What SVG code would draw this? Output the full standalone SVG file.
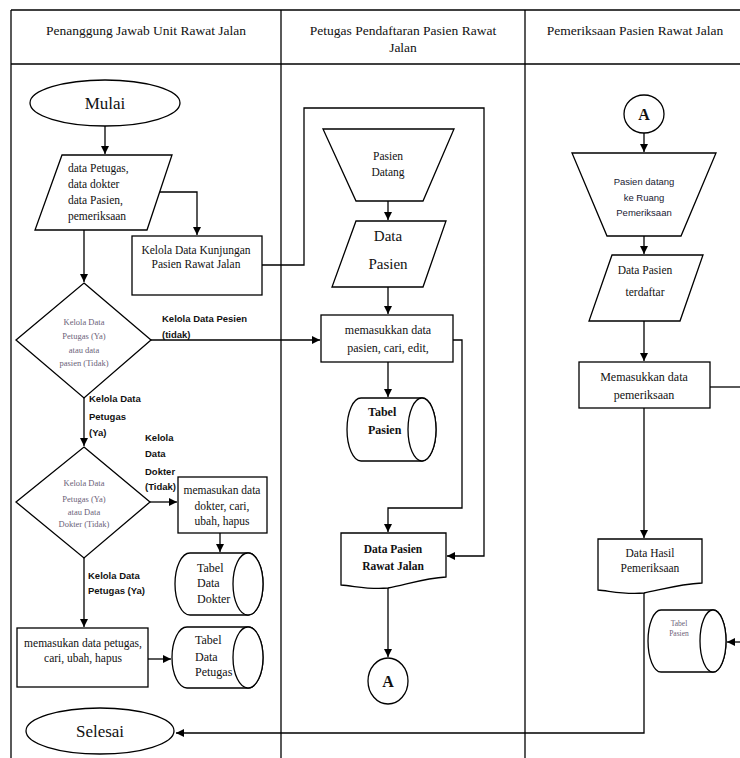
<svg xmlns="http://www.w3.org/2000/svg" width="740" height="758" viewBox="0 0 740 758">
<style>
.frame{fill:none;stroke:#000;stroke-width:1.3}
.shape{fill:#fff;stroke:#000;stroke-width:1.3}
.line{fill:none;stroke:#000;stroke-width:1.3}
.arr{marker-end:url(#ah)}
.t{font-family:"Liberation Serif","Times New Roman",serif;fill:#111;text-anchor:middle}
.tl{font-family:"Liberation Serif","Times New Roman",serif;fill:#111}
.s{font-family:"Liberation Sans",Arial,sans-serif;font-weight:bold;fill:#111}
.c{font-family:"Liberation Sans",Arial,sans-serif;fill:#1a1a33;text-anchor:middle}
.d{font-family:"Liberation Serif","Times New Roman",serif;fill:#6b6278;text-anchor:middle;font-size:8.5px}
</style>
<defs>
<marker id="ah" markerWidth="10" markerHeight="10" refX="8" refY="4" orient="auto" markerUnits="userSpaceOnUse">
<path d="M0,0 L8,4 L0,8 Z" fill="#000"/>
</marker>
</defs>
<rect width="740" height="758" fill="#fff"/>
<g id="frame">
<line class="frame" x1="11" y1="10" x2="740" y2="10"/>
<line class="frame" x1="11" y1="64" x2="740" y2="64"/>
<line class="frame" x1="11" y1="10" x2="11" y2="758"/>
<line class="frame" x1="281" y1="10" x2="281" y2="758"/>
<line class="frame" x1="525" y1="10" x2="525" y2="758"/>
<text class="t" x="146" y="35" font-size="13.5">Penanggung Jawab Unit Rawat Jalan</text>
<text class="t" x="403" y="35" font-size="13.5">Petugas Pendaftaran Pasien Rawat</text>
<text class="t" x="403" y="52" font-size="13.5">Jalan</text>
<text class="t" x="635" y="35" font-size="13.5">Pemeriksaan Pasien Rawat Jalan</text>
</g>
<g id="connectors">
<polyline class="line arr" points="105,126 105,154"/>
<polyline class="line arr" points="158,192 197,192 197,235"/>
<polyline class="line arr" points="84,230 84,282"/>
<polyline class="line arr" points="262,265 304,265 304,108 484,108 484,556 447,556"/>
<polyline class="line arr" points="151,340 320,340"/>
<polyline class="line arr" points="84,398 84,446"/>
<polyline class="line arr" points="150,502 177,502"/>
<polyline class="line arr" points="220,533 220,552"/>
<polyline class="line arr" points="84,558 84,627"/>
<polyline class="line arr" points="148,659 171,659"/>
<polyline class="line arr" points="388,201 388,220"/>
<polyline class="line arr" points="388,287 388,314"/>
<polyline class="line arr" points="388,362 388,397"/>
<polyline class="line arr" points="453,340 462,340 462,508 388,508 388,532"/>
<polyline class="line arr" points="388,588 388,657"/>
<polyline class="line arr" points="644,133 644,152"/>
<polyline class="line arr" points="644,236 644,254"/>
<polyline class="line arr" points="644,321 644,361"/>
<polyline class="line" points="710,387 740,387"/>
<polyline class="line arr" points="644,408 644,538"/>
<polyline class="line arr" points="644,593 644,733 176,733"/>
<polyline class="line arr" points="740,642 727,642"/>
<text class="s" x="162" y="322" font-size="9.5">Kelola Data Pesien</text>
<text class="s" x="162" y="338" font-size="9.5">(tidak)</text>
<text class="s" x="89" y="402" font-size="9.5">Kelola Data</text>
<text class="s" x="89" y="420" font-size="9.5">Petugas</text>
<text class="s" x="89" y="436" font-size="9.5">(Ya)</text>
<text class="s" x="145" y="441" font-size="9.5">Kelola</text>
<text class="s" x="145" y="457" font-size="9.5">Data</text>
<text class="s" x="145" y="475" font-size="9.5">Dokter</text>
<text class="s" x="145" y="490" font-size="9.5">(Tidak)</text>
<text class="s" x="88" y="579" font-size="9.5">Kelola Data</text>
<text class="s" x="88" y="594" font-size="9.5">Petugas (Ya)</text>
</g>
<g id="mulai">
<ellipse class="shape" cx="105" cy="103" rx="75" ry="23"/>
<text class="t" x="105" y="109" font-size="17">Mulai</text>
</g>
<g id="input-data">
<polygon class="shape" points="62,155 172,155 147,230 35,230"/>
<text class="tl" x="68" y="172" font-size="11.5">data Petugas,</text>
<text class="tl" x="68" y="188" font-size="11.5">data dokter</text>
<text class="tl" x="68" y="204" font-size="11.5">data Pasien,</text>
<text class="tl" x="68" y="220" font-size="11.5">pemeriksaan</text>
</g>
<g id="kelola-kunjungan">
<rect class="shape" x="132" y="236" width="130" height="59"/>
<text class="t" x="196" y="254" font-size="11.5">Kelola Data Kunjungan</text>
<text class="t" x="196" y="268" font-size="11.5">Pasien Rawat Jalan</text>
</g>
<g id="decision1">
<polygon class="shape" points="84,283 151,340 84,398 16,340"/>
<text class="d" x="84" y="325">Kelola Data</text>
<text class="d" x="84" y="339">Petugas  (Ya)</text>
<text class="d" x="84" y="353">atau data</text>
<text class="d" x="84" y="366">pasien (Tidak)</text>
</g>
<g id="decision2">
<polygon class="shape" points="84,447 150,502 84,558 16,502"/>
<text class="d" x="84" y="486">Kelola Data</text>
<text class="d" x="84" y="502">Petugas (Ya)</text>
<text class="d" x="84" y="515">atau Data</text>
<text class="d" x="84" y="527">Dokter (Tidak)</text>
</g>
<g id="input-dokter">
<rect class="shape" x="178" y="477" width="89" height="56"/>
<text class="t" x="222" y="494" font-size="11.5">memasukan data</text>
<text class="t" x="222" y="510" font-size="11.5">dokter, cari,</text>
<text class="t" x="222" y="525" font-size="11.5">ubah, hapus</text>
</g>
<g id="tabel-dokter">
<path class="shape" d="M190,553 H248 A15,31 0 0 1 248,615 H190 A15,31 0 0 1 190,553 Z"/>
<ellipse class="shape" cx="248" cy="584" rx="15" ry="31"/>
<text class="tl" x="197" y="572" font-size="12">Tabel</text>
<text class="tl" x="197" y="587" font-size="12">Data</text>
<text class="tl" x="197" y="603" font-size="12">Dokter</text>
</g>
<g id="input-petugas">
<rect class="shape" x="17" y="628" width="131" height="59"/>
<text class="t" x="83" y="647" font-size="11.5">memasukan data petugas,</text>
<text class="t" x="83" y="662" font-size="11.5">cari, ubah, hapus</text>
</g>
<g id="tabel-petugas">
<path class="shape" d="M187,627 H248 A15,30.5 0 0 1 248,688 H187 A15,30.5 0 0 1 187,627 Z"/>
<ellipse class="shape" cx="248" cy="657.5" rx="15" ry="30.5"/>
<text class="tl" x="195" y="644" font-size="12">Tabel</text>
<text class="tl" x="195" y="661" font-size="12">Data</text>
<text class="tl" x="195" y="676" font-size="12">Petugas</text>
</g>
<g id="selesai">
<ellipse class="shape" cx="100" cy="731" rx="74" ry="23"/>
<text class="t" x="100" y="737" font-size="17">Selesai</text>
</g>
<g id="pasien-datang">
<polygon class="shape" points="323,129 454,129 423,201 356,201"/>
<text class="t" x="388" y="160" font-size="11.5">Pasien</text>
<text class="t" x="388" y="176" font-size="11.5">Datang</text>
</g>
<g id="data-pasien">
<polygon class="shape" points="356,221 446,221 423,287 332,287"/>
<text class="t" x="388" y="241" font-size="15">Data</text>
<text class="t" x="388" y="269" font-size="15">Pasien</text>
</g>
<g id="input-pasien">
<rect class="shape" x="321" y="315" width="132" height="47"/>
<text class="t" x="388" y="334" font-size="12">memasukkan data</text>
<text class="t" x="388" y="352" font-size="12">pasien, cari, edit,</text>
</g>
<g id="tabel-pasien">
<path class="shape" d="M361,398 H422 A14,31.5 0 0 1 422,461 H361 A14,31.5 0 0 1 361,398 Z"/>
<ellipse class="shape" cx="422" cy="429.5" rx="14" ry="31.5"/>
<text class="tl" x="368" y="416" font-size="12" font-weight="bold">Tabel</text>
<text class="tl" x="368" y="434" font-size="12" font-weight="bold">Pasien</text>
</g>
<g id="data-pasien-rawat-jalan">
<path class="shape" d="M341,533 H446 V577 C425,578 405,585 388,588 C370,590 355,586 341,585 Z"/>
<text class="t" x="393" y="553" font-size="11.5" font-weight="bold">Data Pasien</text>
<text class="t" x="393" y="570" font-size="11.5" font-weight="bold">Rawat Jalan</text>
</g>
<g id="connector-a1">
<ellipse class="shape" cx="388" cy="681" rx="20" ry="23"/>
<text class="t" x="388" y="687" font-size="16" font-weight="bold">A</text>
</g>
<g id="connector-a2">
<ellipse class="shape" cx="644" cy="114" rx="20" ry="19"/>
<text class="t" x="644" y="120" font-size="16" font-weight="bold">A</text>
</g>
<g id="pasien-ruang">
<polygon class="shape" points="572,153 716,153 681,236 607,236"/>
<text class="c" x="644" y="185" font-size="9.5">Pasien datang</text>
<text class="c" x="644" y="201" font-size="9.5">ke Ruang</text>
<text class="c" x="644" y="216" font-size="9.5">Pemeriksaan</text>
</g>
<g id="pasien-terdaftar">
<polygon class="shape" points="612,255 703,255 680,321 589,321"/>
<text class="t" x="645" y="274" font-size="11.5">Data Pasien</text>
<text class="t" x="645" y="296" font-size="11.5">terdaftar</text>
</g>
<g id="input-pemeriksaan">
<rect class="shape" x="579" y="362" width="131" height="46"/>
<text class="t" x="644" y="381" font-size="12">Memasukkan data</text>
<text class="t" x="644" y="399" font-size="12">pemeriksaan</text>
</g>
<g id="hasil-pemeriksaan">
<path class="shape" d="M598,539 H702 V583 C680,584 660,590 644,593 C625,595 610,591 598,590 Z"/>
<text class="t" x="650" y="557" font-size="11.5">Data Hasil</text>
<text class="t" x="650" y="572" font-size="11.5">Pemeriksaan</text>
</g>
<g id="tabel-pasien-2">
<path class="shape" d="M661,610 H713 A13,31 0 0 1 713,672 H661 A13,31 0 0 1 661,610 Z"/>
<ellipse class="shape" cx="713" cy="641" rx="13" ry="31"/>
<text class="d" x="679" y="626" style="font-size:7.5px">Tabel</text>
<text class="d" x="679" y="636" style="font-size:7.5px">Pasien</text>
</g>
</svg>
